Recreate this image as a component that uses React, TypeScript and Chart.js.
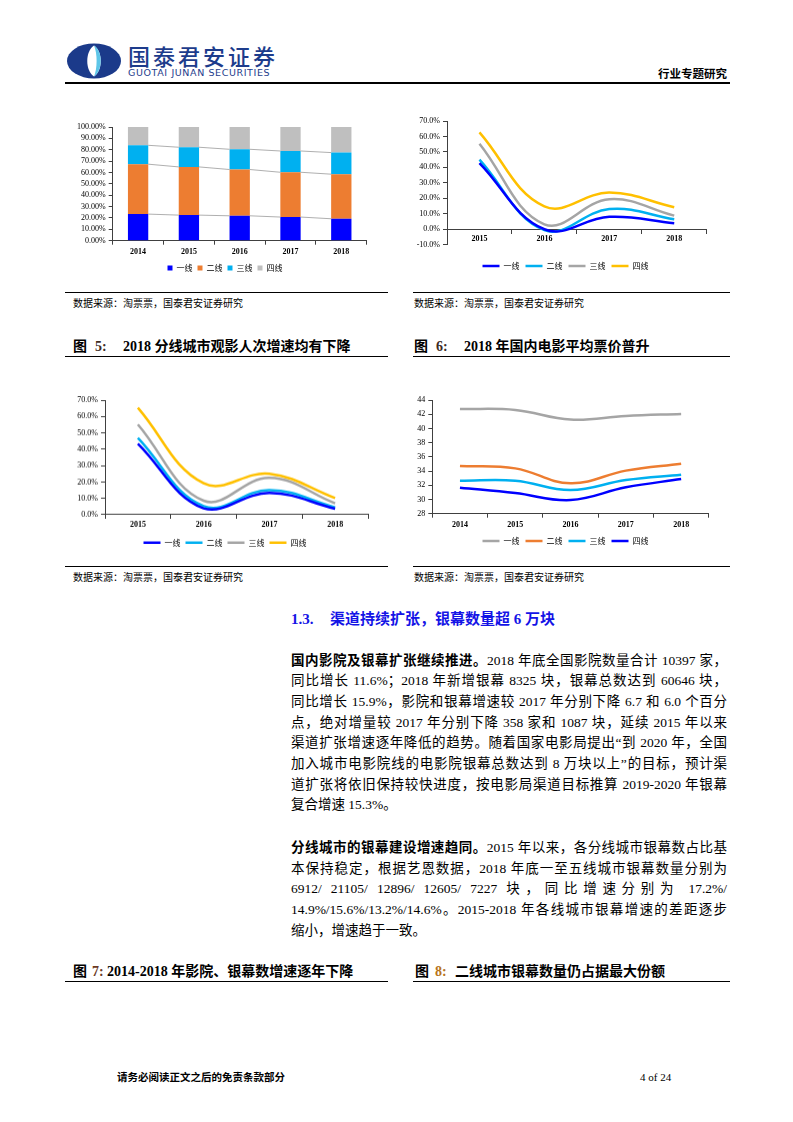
import React, { useEffect, useRef } from 'react';
import { Chart, registerables } from 'chart.js';
Chart.register(...registerables);

// ---------- data ----------
const years5 = ['2014', '2015', '2016', '2017', '2018'];
const years4 = ['2015', '2016', '2017', '2018'];
const tierLabels = ['一线', '二线', '三线', '四线'];

// share of screens by city tier (%), stacked to 100
const share1 = [23.4, 22.5, 21.9, 20.8, 19.3];
const share2 = [43.9, 42.4, 40.7, 39.4, 39.2];
const share3 = [16.6, 17.3, 17.8, 18.7, 19.0];
const share4 = [16.1, 17.8, 19.6, 21.1, 22.5];
const shareTicks = [0, 10, 20, 30, 40, 50, 60, 70, 80, 90, 100];

// growth (top right)
const boxGrowth1 = [42.8, 0.0, 8.0, 3.9];
const boxGrowth2 = [45.0, -0.6, 13.1, 6.5];
const boxGrowth3 = [55.3, 3.2, 19.4, 8.8];
const boxGrowth4 = [62.6, 14.8, 23.7, 14.2];

// fig 5: admissions growth
const admGrowth1 = [43.4, 3.9, 13.3, 3.7];
const admGrowth2 = [46.9, 5.3, 15.1, 4.5];
const admGrowth3 = [55.1, 8.6, 22.5, 7.0];
const admGrowth4 = [65.3, 19.2, 25.0, 10.2];

// fig 6: average ticket price
const price1 = [42.74, 42.6, 41.24, 41.76, 42.04];
const price2 = [34.71, 34.38, 32.27, 34.06, 35.04];
const price3 = [32.65, 32.65, 31.33, 32.74, 33.49];
const price4 = [31.66, 30.91, 29.92, 31.71, 32.88];

// ---------- styling ----------
const SERIF = "'Liberation Serif', 'Times New Roman', 'Noto Sans CJK SC', serif";
const CJK = "'Noto Sans CJK SC', sans-serif";
const AXIS = '#404040';
const BLUE = '#0000FF';
const CYAN = '#00B0F0';
const GRAY = '#A5A5A5';
const GOLD = '#FFC000';
const ORANGE = '#ED7D31';

const fixW = (w: number) => (s: any) => { s.width = w; };
const fixH = (h: number) => (s: any) => { s.height = h; };

const rightSpacer = (w: number) => ({
  type: 'linear', position: 'right', display: true,
  grid: { display: false }, ticks: { display: false }, border: { display: false },
  afterFit: fixW(w),
});

const xCat = (pad: number, h: number | null, extra: any = {}) => ({
  type: 'category',
  offset: true,
  grid: { display: true, offset: true, drawOnChartArea: false, tickLength: 4, color: AXIS, lineWidth: 1 },
  border: { display: true, color: AXIS, width: 1 },
  ticks: { color: '#000', font: { size: 8, weight: 'bold', family: SERIF }, padding: pad, maxRotation: 0, autoSkip: false },
  ...(h !== null ? { afterFit: fixH(h) } : {}),
  ...extra,
});

const yLin = (min: number, max: number, step: number, fmt: (v: number) => string, w: number) => ({
  type: 'linear', min, max,
  grid: { display: true, drawOnChartArea: false, tickLength: 4, color: AXIS, lineWidth: 1 },
  border: { display: true, color: AXIS, width: 1 },
  ticks: { stepSize: step, autoSkip: false, color: '#000', font: { size: 8, family: SERIF }, padding: 3, callback: (v: any) => fmt(Number(v)) },
  afterFit: fixW(w),
});

const lineLegend = (pad: number) => ({
  position: 'bottom',
  labels: { usePointStyle: true, pointStyle: 'line', pointStyleWidth: 17, padding: pad, color: '#000', font: { size: 8, family: CJK } },
});

const lineDs = (label: string, data: number[], color: string) => ({
  label, data, borderColor: color, backgroundColor: color, borderWidth: 2.5,
  pointRadius: 0, pointHoverRadius: 0, tension: 0.4, fill: false,
});

// gray series lines joining the tops of stacked segments
const seriesLines = {
  id: 'seriesLines',
  afterDatasetsDraw(chart: any) {
    const ctx = chart.ctx;
    ctx.save();
    ctx.strokeStyle = '#9a9a9a';
    ctx.lineWidth = 0.8;
    const n = chart.data.datasets.length;
    for (let d = 0; d < n - 1; d++) {
      const meta = chart.getDatasetMeta(d);
      for (let i = 0; i < meta.data.length - 1; i++) {
        const a = meta.data[i];
        const b = meta.data[i + 1];
        ctx.beginPath();
        ctx.moveTo(a.x + a.width / 2, a.y);
        ctx.lineTo(b.x - b.width / 2, b.y);
        ctx.stroke();
      }
    }
    ctx.restore();
  },
};

// ---------- chart configs ----------
const shareConfig = () => ({
  type: 'bar',
  data: {
    labels: years5,
    datasets: [
      { label: tierLabels[0], data: share1, backgroundColor: BLUE },
      { label: tierLabels[1], data: share2, backgroundColor: ORANGE },
      { label: tierLabels[2], data: share3, backgroundColor: CYAN },
      { label: tierLabels[3], data: share4, backgroundColor: '#BFBFBF' },
    ].map((d) => ({ ...d, barPercentage: 0.4, categoryPercentage: 1, borderWidth: 0 })),
  },
  options: {
    animation: false, responsive: true, maintainAspectRatio: false,
    layout: { padding: { top: 10, left: 0, right: 0, bottom: 0 } },
    plugins: {
      legend: { position: 'bottom', labels: { boxWidth: 5, boxHeight: 5, padding: 5, color: '#000', font: { size: 8, family: CJK } } },
      tooltip: { enabled: false },
    },
    scales: {
      x: { ...xCat(2, 18.3), stacked: true },
      y: { ...yLin(0, 100, 10, (v) => v.toFixed(2) + '%', 52.7), stacked: true, afterBuildTicks: (s: any) => { s.ticks = shareTicks.map((v) => ({ value: v })); } },
      yr: rightSpacer(23.3),
    },
  },
  plugins: [seriesLines],
});

const boxConfig = () => ({
  type: 'line',
  data: {
    labels: years4,
    datasets: [
      lineDs(tierLabels[0], boxGrowth1, BLUE),
      lineDs(tierLabels[1], boxGrowth2, CYAN),
      lineDs(tierLabels[2], boxGrowth3, GRAY),
      lineDs(tierLabels[3], boxGrowth4, GOLD),
    ],
  },
  options: {
    animation: false, responsive: true, maintainAspectRatio: false,
    layout: { padding: { top: 10, left: 0, right: 0, bottom: 0 } },
    plugins: { legend: lineLegend(6), tooltip: { enabled: false } },
    scales: {
      x: xCat(1, null, { position: { y: 0 } }),
      y: yLin(-10, 70, 10, (v) => v.toFixed(1) + '%', 47),
      xgap: {
        type: 'category', position: 'bottom', display: true,
        grid: { display: false }, ticks: { display: false }, border: { display: false },
        afterFit: fixH(11.3),
      },
      yr: rightSpacer(24.3),
    },
  },
});

const admConfig = () => ({
  type: 'line',
  data: {
    labels: years4,
    datasets: [
      lineDs(tierLabels[0], admGrowth1, BLUE),
      lineDs(tierLabels[1], admGrowth2, CYAN),
      lineDs(tierLabels[2], admGrowth3, GRAY),
      lineDs(tierLabels[3], admGrowth4, GOLD),
    ],
  },
  options: {
    animation: false, responsive: true, maintainAspectRatio: false,
    layout: { padding: { top: 10, left: 0, right: 0, bottom: 0 } },
    plugins: { legend: lineLegend(5), tooltip: { enabled: false } },
    scales: {
      x: xCat(1.5, 18.7),
      y: yLin(0, 70, 10, (v) => v.toFixed(1) + '%', 45),
      yr: rightSpacer(22),
    },
  },
});

const priceConfig = () => ({
  type: 'line',
  data: {
    labels: years5,
    datasets: [
      lineDs(tierLabels[0], price1, GRAY),
      lineDs(tierLabels[1], price2, ORANGE),
      lineDs(tierLabels[2], price3, CYAN),
      lineDs(tierLabels[3], price4, BLUE),
    ],
  },
  options: {
    animation: false, responsive: true, maintainAspectRatio: false,
    layout: { padding: { top: 10, left: 0, right: 0, bottom: 0 } },
    plugins: { legend: lineLegend(6), tooltip: { enabled: false } },
    scales: {
      x: xCat(2, 17.3),
      y: yLin(28, 44, 2, (v) => String(Math.round(v)), 32.3),
      yr: rightSpacer(22.2),
    },
  },
});

// ---------- components ----------
function ChartBox({ left, top, width, height, make }: any) {
  const ref = useRef<HTMLCanvasElement>(null);
  useEffect(() => {
    const chart = new Chart(ref.current as any, make() as any);
    return () => chart.destroy();
  }, []);
  return (
    <div style={{ position: 'absolute', left, top, width, height }}>
      <canvas ref={ref} />
    </div>
  );
}

const abs = (left: number, top: number, extra: any = {}) => ({ position: 'absolute' as const, left, top, whiteSpace: 'nowrap' as const, ...extra });

function HLine({ left, top, width, h = 1 }: any) {
  return <div style={{ position: 'absolute', left, top, width, height: h, background: '#000' }} />;
}

function Caption({ left, top, num, numLeft, numColor, rest, restLeft, lineLeft, lineWidth }: any) {
  const f = { fontSize: 14, fontWeight: 700, lineHeight: '16px', fontFamily: SERIF, color: '#000' };
  return (
    <>
      <div style={abs(left, top, f)}>图</div>
      <div style={abs(numLeft, top, { ...f, color: numColor })}>{num}</div>
      <div style={abs(restLeft, top, f)}>{rest}</div>
      <HLine left={lineLeft} top={top + 16.5} width={lineWidth} h={1.5} />
    </>
  );
}

const bodyFont = { fontSize: 13.5, fontFamily: SERIF, color: '#000' };
const LH = 20.7;

function Para({ top, lines }: { top: number; lines: any[] }) {
  return (
    <div style={{ position: 'absolute', left: 291, top, width: 436, ...bodyFont }}>
      {lines.map((ln, i) => (
        <div
          key={i}
          style={{
            height: LH, lineHeight: LH + 'px', overflow: 'visible',
            textAlign: i < lines.length - 1 ? 'justify' : 'left',
            textAlignLast: i < lines.length - 1 ? 'justify' : 'left',
          } as any}
        >
          {ln}
        </div>
      ))}
    </div>
  );
}

const B = ({ children }: any) => <span style={{ fontWeight: 700 }}>{children}</span>;

export default function App() {
  const src = '数据来源：淘票票，国泰君安证券研究';
  const srcStyle = { fontSize: 10, lineHeight: '12px', fontFamily: CJK, color: '#000' };
  return (
    <div style={{ position: 'absolute', left: 0, top: 0, width: 793, height: 1122, background: '#fff', overflow: 'hidden', fontFamily: SERIF }}>
      {/* header */}
      <svg style={{ position: 'absolute', left: 66, top: 43 }} width="56" height="36" viewBox="0 0 56 36">
        <ellipse cx="28" cy="18" rx="27" ry="17.5" fill="#1b3a8a" />
        <path d="M28 2.5 C 19 8, 19 28, 28 33.5 C 37 28, 37 8, 28 2.5 Z" fill="#ffffff" />
        <path d="M28 2.5 C 37 8, 37 28, 28 33.5 C 31.5 26, 31.5 10, 28 2.5 Z" fill="#5ec6e8" />
      </svg>
      <div style={abs(128, 43, { fontSize: 22, lineHeight: '24px', fontFamily: CJK, fontWeight: 500, color: '#1d3c8c', letterSpacing: 3 })}>国泰君安证券</div>
      <div style={abs(128, 68, { fontSize: 9.5, lineHeight: '10px', fontFamily: "'DejaVu Sans', sans-serif", color: '#1d3c8c', letterSpacing: 0.6 })}>GUOTAI JUNAN SECURITIES</div>
      <div style={{ position: 'absolute', right: 66, top: 66, fontSize: 11.5, lineHeight: '14px', fontWeight: 700, fontFamily: CJK, color: '#000', whiteSpace: 'nowrap' }}>行业专题研究</div>
      <HLine left={65} top={82} width={665} h={2} />

      {/* row 1 charts */}
      <ChartBox left={60} top={117} width={330} height={165} make={shareConfig} />
      <ChartBox left={400} top={111} width={331} height={169} make={boxConfig} />
      <HLine left={65} top={292} width={323} />
      <HLine left={413} top={292} width={317} />
      <div style={abs(73, 297, srcStyle)}>{src}</div>
      <div style={abs(414, 297, srcStyle)}>{src}</div>

      <Caption left={73} top={339} num="5:" numLeft={95} numColor="#3d2b1f" rest="2018 分线城市观影人次增速均有下降" restLeft={123} lineLeft={65} lineWidth={323} />
      <Caption left={414} top={339} num="6:" numLeft={436} numColor="#3d2b1f" rest="2018 年国内电影平均票价普升" restLeft={464} lineLeft={413} lineWidth={317} />

      {/* row 2 charts */}
      <ChartBox left={60} top={390} width={330} height={165.7} make={admConfig} />
      <ChartBox left={400} top={390} width={331} height={165} make={priceConfig} />
      <HLine left={65} top={566} width={323} />
      <HLine left={413} top={566} width={317} />
      <div style={abs(73, 571, srcStyle)}>{src}</div>
      <div style={abs(414, 571, srcStyle)}>{src}</div>

      {/* section */}
      <div style={abs(291, 610, { fontSize: 15, lineHeight: '18px', fontWeight: 700, color: '#1414E6', fontFamily: SERIF })}>1.3.</div>
      <div style={abs(330, 610, { fontSize: 15, lineHeight: '18px', fontWeight: 700, color: '#1414E6', fontFamily: SERIF })}>渠道持续扩张，银幕数量超 6 万块</div>

      <Para
        top={650.6}
        lines={[
          <><B>国内影院及银幕扩张继续推进。</B>2018 年底全国影院数量合计 10397 家，</>,
          '同比增长 11.6%；2018 年新增银幕 8325 块，银幕总数达到 60646 块，',
          '同比增长 15.9%，影院和银幕增速较 2017 年分别下降 6.7 和 6.0 个百分',
          '点，绝对增量较 2017 年分别下降 358 家和 1087 块，延续 2015 年以来',
          '渠道扩张增速逐年降低的趋势。随着国家电影局提出“到 2020 年，全国',
          '加入城市电影院线的电影院银幕总数达到 8 万块以上”的目标，预计渠',
          '道扩张将依旧保持较快进度，按电影局渠道目标推算 2019-2020 年银幕',
          '复合增速 15.3%。',
        ]}
      />
      <Para
        top={838}
        lines={[
          <><B>分线城市的银幕建设增速趋同。</B>2015 年以来，各分线城市银幕数占比基</>,
          '本保持稳定，根据艺恩数据，2018 年底一至五线城市银幕数量分别为',
          '6912/ 21105/ 12896/ 12605/ 7227 块，同比增速分别为 17.2%/',
          '14.9%/15.6%/13.2%/14.6%。2015-2018 年各线城市银幕增速的差距逐步',
          '缩小，增速趋于一致。',
        ]}
      />

      <Caption left={73} top={964} num="7:" numLeft={92} numColor="#6b3a1f" rest="2014-2018 年影院、银幕数增速逐年下降" restLeft={107} lineLeft={65} lineWidth={323} />
      <Caption left={415} top={964} num="8:" numLeft={435} numColor="#b8741a" rest="二线城市银幕数量仍占据最大份额" restLeft={455} lineLeft={413} lineWidth={317} />

      {/* footer */}
      <div style={abs(117, 1070, { fontSize: 10.5, lineHeight: '14px', fontWeight: 700, fontFamily: CJK, color: '#000' })}>请务必阅读正文之后的免责条款部分</div>
      <div style={abs(640, 1070, { fontSize: 11, lineHeight: '14px', fontFamily: SERIF, color: '#000' })}>4 of 24</div>
    </div>
  );
}
